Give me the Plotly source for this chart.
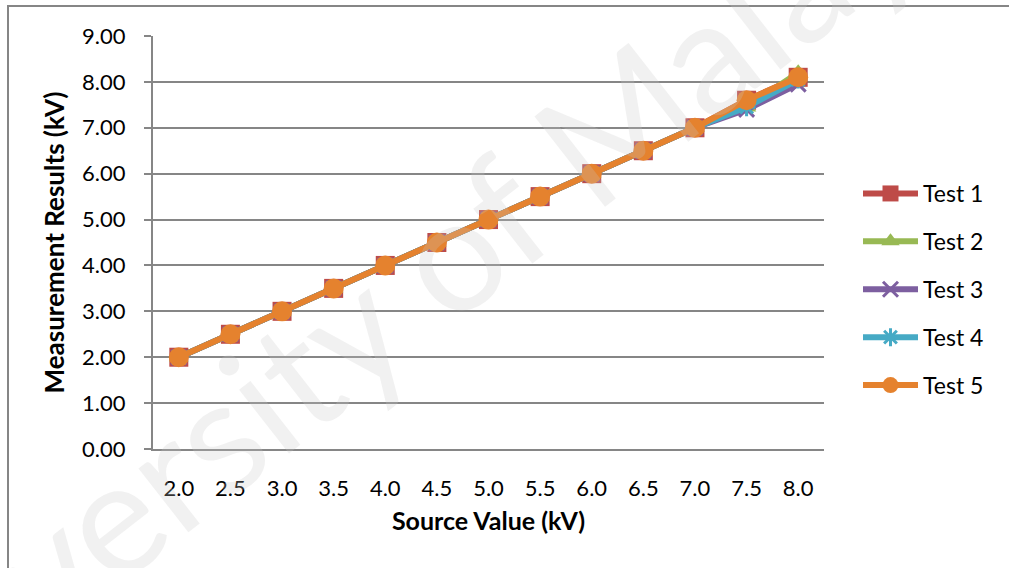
import plotly.graph_objects as go

categories = ["2.0", "2.5", "3.0", "3.5", "4.0", "4.5", "5.0", "5.5", "6.0", "6.5", "7.0", "7.5", "8.0"]
test1 = [2.0, 2.5, 3.0, 3.5, 4.0, 4.5, 5.0, 5.5, 6.0, 6.5, 7.0, 7.6, 8.1]
test2 = [2.0, 2.5, 3.0, 3.5, 4.0, 4.5, 5.0, 5.5, 6.0, 6.5, 7.0, 7.45, 8.2]
test3 = [2.0, 2.5, 3.0, 3.5, 4.0, 4.5, 5.0, 5.5, 6.0, 6.5, 7.0, 7.4, 7.95]
test4 = [2.0, 2.5, 3.0, 3.5, 4.0, 4.5, 5.0, 5.5, 6.0, 6.5, 7.0, 7.45, 8.05]
test5 = [2.0, 2.5, 3.0, 3.5, 4.0, 4.5, 5.0, 5.5, 6.0, 6.5, 7.0, 7.6, 8.1]
y_ticks = [0, 1, 2, 3, 4, 5, 6, 7, 8, 9]

series = [
    ("Test 1", test1, "#BE4B48", "square", 19, None),
    ("Test 2", test2, "#98B954", "triangle-up", 17, None),
    ("Test 3", test3, "#7D5FA0", "x-thin", 15, 3),
    ("Test 4", test4, "#46AAC5", "asterisk", 15, 3),
    ("Test 5", test5, "#E5822E", "circle", 20, None),
]

FONT = "Lato, 'Open Sans', sans-serif"
fig = go.Figure()
for name, vals, color, sym, size, lw in series:
    marker = dict(symbol=sym, size=size, color=color)
    if lw:
        marker["line"] = dict(color=color, width=lw)
    fig.add_trace(go.Scatter(
        x=categories, y=vals, name=name, mode="lines+markers", legendgroup=name,
        line=dict(color=color, width=6), marker=marker,
    ))

L, R, T, B = 153, 185, 36, 119
W, H = 1009, 568
pw, ph = W - L - R, H - T - B

fig.update_layout(
    width=W, height=H,
    margin=dict(l=L, r=R, t=T, b=B),
    paper_bgcolor="white", plot_bgcolor="white",
    font=dict(family=FONT, size=22, color="#000000"),
    showlegend=True,
    legend=dict(x=(858 - L) / pw, y=(H - 172 - B) / ph, xanchor="left", yanchor="top",
                font=dict(size=23, family=FONT), tracegroupgap=15, itemwidth=55,
                bgcolor="rgba(0,0,0,0)"),
    xaxis=dict(
        type="category", range=[-0.5, 12.5], showgrid=False, showline=True,
        linecolor="#868686", linewidth=2, ticks="", tickfont=dict(size=22, family=FONT),
        ticklabelstandoff=19,
        title=dict(text="<b>Source Value (kV)</b>", font=dict(size=25, family=FONT), standoff=12),
    ),
    yaxis=dict(
        range=[0, 9], tickvals=y_ticks, tickformat=".2f", showgrid=True,
        gridcolor="#868686", gridwidth=2, showline=True, linecolor="#868686", linewidth=2,
        ticks="outside", ticklen=7, tickcolor="#868686", tickwidth=2,
        tickfont=dict(size=22, family=FONT), zeroline=False, ticklabelstandoff=14,
        title=dict(text="<b>Measurement Results (kV)</b>", font=dict(size=26, family=FONT), standoff=10),
    ),
)

# outer chart border
fig.add_shape(type="rect", xref="paper", yref="paper",
              x0=(8 - L) / pw, x1=(W + 10 - L) / pw,
              y0=-(B + 10) / ph, y1=(H - 6 - B) / ph,
              line=dict(color="#868686", width=2), fillcolor="rgba(0,0,0,0)", layer="below")

# faint watermark
fig.add_annotation(text="University of Malaya", xref="paper", yref="paper",
                   x=(385 - L) / pw, y=(H - 300 - B) / ph, showarrow=False, textangle=-38,
                   font=dict(size=160, family=FONT, color="rgba(200,200,200,0.25)"))

fig.write_html("out.html")
